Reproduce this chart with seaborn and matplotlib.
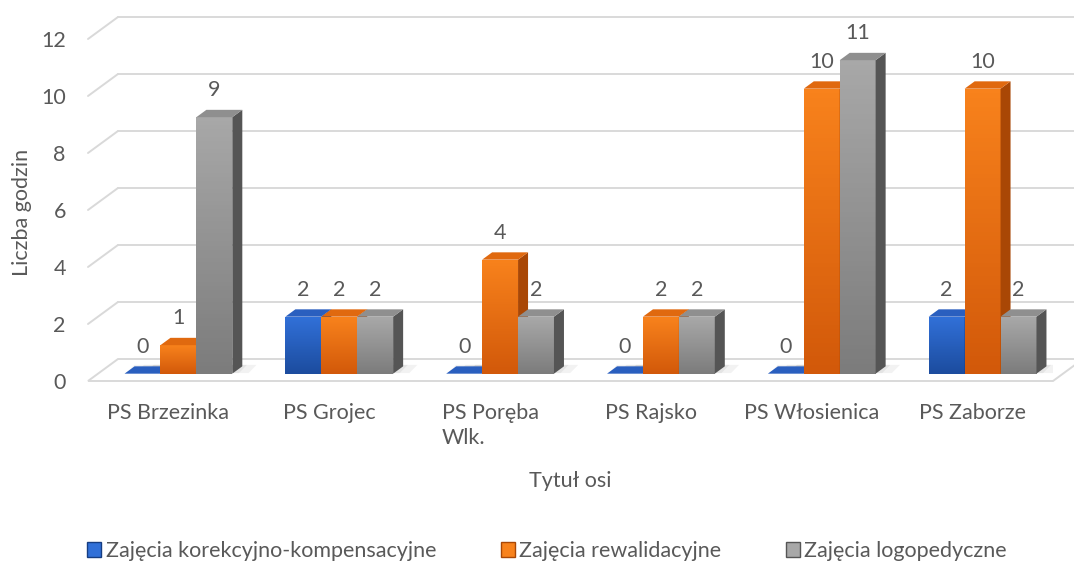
import numpy as np
import pandas as pd
import seaborn as sns
import matplotlib.pyplot as plt
from matplotlib.patches import Polygon, Patch
from matplotlib.colors import LinearSegmentedColormap
import matplotlib.transforms as mtransforms

# data
categories = ["PS Brzezinka", "PS Grojec", "PS Poręba\nWlk.", "PS Rajsko", "PS Włosienica", "PS Zaborze"]
series = ["Zajęcia korekcyjno-kompensacyjne", "Zajęcia rewalidacyjne", "Zajęcia logopedyczne"]
korekcyjne = [0, 2, 0, 0, 0, 2]
rewalidacyjne = [1, 2, 4, 2, 10, 10]
logopedyczne = [9, 2, 2, 2, 11, 2]
y_ticks = [0, 2, 4, 6, 8, 10, 12]

TEXT = "#595959"
GRID = "#d9d9d9"
FS = 15.5
# front top, front bottom, side, top face
STYLE = {
    series[0]: ("#3170d8", "#1c4c9e", "#163d82", "#2a5fbf"),
    series[1]: ("#f8821c", "#d2590a", "#a94705", "#e0690f"),
    series[2]: ("#a8a8a8", "#7c7c7c", "#555555", "#8f8f8f"),
}

sns.set_theme(style="white")
plt.rcParams["font.family"] = ["Lato", "DejaVu Sans"]

df = pd.DataFrame({
    "category": np.repeat(categories, 3),
    "series": series * len(categories),
    "value": np.ravel(np.column_stack([korekcyjne, rewalidacyjne, logopedyczne])),
})

fig = plt.figure(figsize=(10.74, 5.66), dpi=100)
ax = fig.add_axes([88 / 1074, 185 / 566, 965 / 1074, 370.5 / 566])

sns.barplot(
    data=df, x="category", y="value", hue="series", order=categories,
    hue_order=series, palette={s: STYLE[s][0] for s in series},
    width=0.67, errorbar=None, legend=False, ax=ax, linewidth=0,
)

XMIN, XMAX, YMAX = -0.5, len(categories) - 0.5, 13.0
ax.set_xlim(XMIN, XMAX)
ax.set_ylim(0, YMAX)

# oblique depth of the whole box (data units) and of the bars
DX, DY = 30 / 160.8, 22 / 28.5
bx, by = DX / 3, DY / 3

# floor and walls
floor = Polygon([(XMIN, 0), (XMAX, 0), (XMAX + DX, DY), (XMIN + DX, DY)],
                closed=True, facecolor="white", edgecolor=GRID, lw=1.4, zorder=0.5,
                clip_on=False)
ax.add_patch(floor)
for v in y_ticks[1:]:
    ax.plot([XMIN + DX, XMAX + DX], [v + DY, v + DY], color=GRID, lw=1.4,
            zorder=0.4, clip_on=False)
    ax.plot([XMIN, XMIN + DX], [v, v + DY], color=GRID, lw=1.4, zorder=0.4,
            clip_on=False)

# soft shadows on the floor behind each group
for i in range(len(categories)):
    for k, a in enumerate([0.06, 0.07, 0.09]):
        w = 0.38 - k * 0.06
        cx = i + bx + DX * 0.3
        ax.add_patch(Polygon(
            [(cx - w, by + 0.02), (cx + w, by + 0.02),
             (cx + w + 0.05, by + DY * 0.4), (cx - w + 0.05, by + DY * 0.4)],
            closed=True, facecolor="#303030", edgecolor="none", alpha=a, zorder=0.6))

# turn flat bars into boxes
bars = []
for cont, name in zip(ax.containers, series):
    for p in cont.patches:
        bars.append((p.get_x(), p, name))
bars.sort(key=lambda t: t[0])

label_tr = mtransforms.offset_copy(ax.transData, fig=fig, x=0, y=27, units="dots")
for n, (_, p, name) in enumerate(bars):
    front_top, front_bot, side_c, top_c = STYLE[name]
    p.set_x(p.get_x() + bx)
    p.set_y(p.get_y() + by)
    z = 2 + n * 0.01
    p.set_zorder(z)
    x0, y0 = p.get_x(), p.get_y()
    x1, y1 = x0 + p.get_width(), y0 + p.get_height()
    if p.get_height() > 0:
        cmap = LinearSegmentedColormap.from_list("g", [front_bot, front_top])
        im = ax.imshow(np.linspace(0, 1, 64).reshape(-1, 1), cmap=cmap, aspect="auto",
                       origin="lower", extent=(x0, x1, y0, y1), zorder=z + 0.001)
        im.set_clip_path(p)
    ax.add_patch(Polygon([(x1, y0), (x1 + bx, y0 + by), (x1 + bx, y1 + by), (x1, y1)],
                         closed=True, facecolor=side_c, edgecolor="none", zorder=z + 0.002))
    ax.add_patch(Polygon([(x0, y1), (x1, y1), (x1 + bx, y1 + by), (x0 + bx, y1 + by)],
                         closed=True, facecolor=top_c, edgecolor="none", zorder=z + 0.003))
    ax.text((x0 + x1) / 2, y1, f"{p.get_height():g}", transform=label_tr,
            ha="center", va="center", fontsize=FS, color=TEXT, zorder=10)

ax.set_xlim(XMIN, XMAX)
ax.set_ylim(0, YMAX)

for s in ax.spines.values():
    s.set_visible(False)
ax.set_yticks(y_ticks)
ax.tick_params(axis="both", length=0, labelsize=FS, labelcolor=TEXT)
ax.tick_params(axis="y", pad=16)
ax.tick_params(axis="x", pad=16)
ax.set_xticks(range(len(categories)))
ax.set_xticklabels(categories, linespacing=1.3)
for t in ax.get_xticklabels():
    t.set_multialignment("left")

ax.set_xlabel("Tytuł osi", fontsize=FS, color=TEXT)
ax.xaxis.label.set_va("center")
ax.xaxis.set_label_coords((570 - 88) / 965, (85 - 185) / 370.5)
ax.set_ylabel("Liczba godzin", fontsize=FS, color=TEXT)
ax.yaxis.label.set_va("center")
ax.yaxis.set_label_coords((22 - 88) / 965, (354 - 185) / 370.5)

handles = [Patch(facecolor=STYLE[s][0], edgecolor=STYLE[s][2], lw=1) for s in series]
fig.legend(handles, series, loc="center", bbox_to_anchor=(547 / 1074, 1 - 551 / 566),
           ncol=3, frameon=False, fontsize=FS, labelcolor=TEXT, handlelength=0.65,
           handleheight=0.65, handletextpad=0.2, columnspacing=3.0)

fig.savefig("out.png", dpi=100, facecolor="white")
